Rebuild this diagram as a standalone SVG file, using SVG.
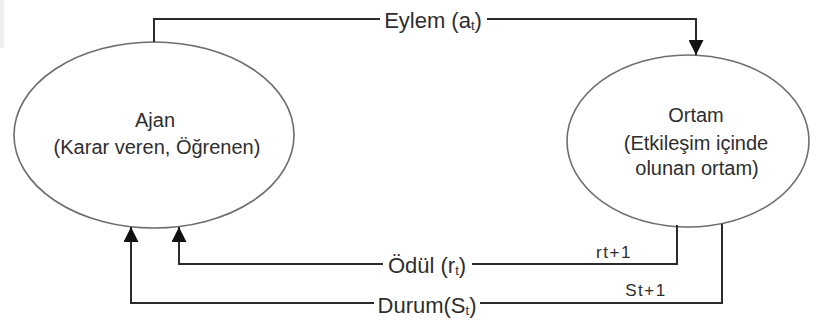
<svg xmlns="http://www.w3.org/2000/svg" width="816" height="320" viewBox="0 0 816 320">
<style>
.node ellipse{fill:#fff;stroke:#6e6e6e;stroke-width:1.6}
.t{font-family:"Liberation Sans",Arial,sans-serif;font-size:20px;fill:#2e2e2e;text-anchor:middle}
.lbl{font-family:"Liberation Sans",Arial,sans-serif;font-size:22px;fill:#2e2e2e;text-anchor:middle}
.sm{font-family:"Liberation Sans",Arial,sans-serif;font-size:17px;fill:#2e2e2e;text-anchor:middle;letter-spacing:1.5px}
.sub{font-size:13px}
.conn path{fill:none;stroke:#2b2b2b;stroke-width:2}
.bg{fill:#fff}
</style>
<defs>
<marker id="ah" markerUnits="userSpaceOnUse" markerWidth="15" markerHeight="15" refX="15" refY="7.5" orient="auto">
<path d="M0,0 L15,7.5 L0,15 z" fill="#111"/>
</marker>
</defs>
<rect x="0" y="0" width="816" height="320" fill="#fff"/>
<rect x="0" y="0" width="4" height="48" fill="#efefef"/>
<g id="agent" class="node">
<ellipse cx="154" cy="135" rx="140" ry="93"/>
<text class="t" x="155" y="127">Ajan</text>
<text class="t" x="157" y="154">(Karar veren, Öğrenen)</text>
</g>
<g id="environment" class="node">
<ellipse cx="688" cy="141" rx="121" ry="86"/>
<text class="t" x="696" y="122">Ortam</text>
<text class="t" x="696" y="150">(Etkileşim içinde</text>
<text class="t" x="697" y="175">olunan ortam)</text>
</g>
<g id="connectors" class="conn">
<path d="M154,42 L154,19 L696,19 L696,55" marker-end="url(#ah)"/>
<path d="M677,225 L677,264 L179,264 L179,227" marker-end="url(#ah)"/>
<path d="M722,224 L722,303 L131,303 L131,227" marker-end="url(#ah)"/>
<rect class="bg" x="380" y="8" width="107" height="24"/>
<text class="lbl" x="433" y="28">Eylem (a<tspan class="sub" dy="2">t</tspan><tspan dy="-2">)</tspan></text>
<rect class="bg" x="383" y="253" width="89" height="24"/>
<text class="lbl" x="427" y="273">Ödül (r<tspan class="sub" dy="2">t</tspan><tspan dy="-2">)</tspan></text>
<rect class="bg" x="374" y="292" width="106" height="24"/>
<text class="lbl" x="427" y="313">Durum(S<tspan class="sub" dy="2">t</tspan><tspan dy="-2">)</tspan></text>
<text class="sm" x="614" y="258">rt+1</text>
<text class="sm" x="646" y="296">St+1</text>
</g>
</svg>
